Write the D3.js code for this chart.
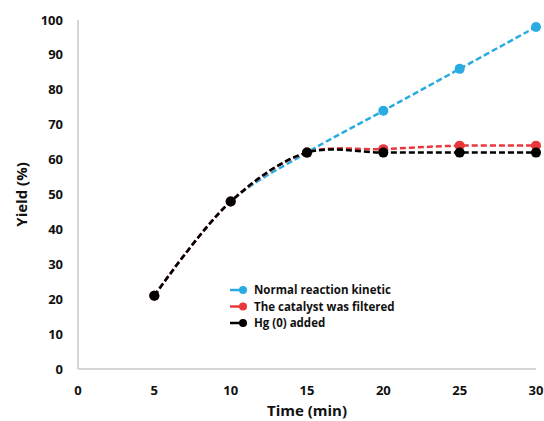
<!DOCTYPE html>
<html lang="en">
<head>
  <meta charset="UTF-8">
  <title>Yield vs Time</title>
  <script src="https://d3js.org/d3.v7.min.js"></script>
  <style>
    body { margin: 0; background: #fff; }
    text { font-family: "Open Sans", "Liberation Sans", sans-serif; font-weight: bold; fill: #111; }
    .tick-label { font-size: 13px; }
    .axis-title { font-size: 15px; }
    .legend-label { font-size: 11.5px; }
  </style>
</head>
<body>
  <div id="chart"></div>
  <script>
    // Data
    const times = [5, 10, 15, 20, 25, 30];
    const normalKinetic = [21, 48, 62, 74, 86, 98];
    const catalystFiltered = [21, 48, 62, 63, 64, 64];
    const hgAdded = [21, 48, 62, 62, 62, 62];
    const xTicks = [0, 5, 10, 15, 20, 25, 30];
    const yTicks = [0, 10, 20, 30, 40, 50, 60, 70, 80, 90, 100];

    const series = [
      { name: "Normal  reaction kinetic", values: normalKinetic, color: "#29abe2" },
      { name: "The catalyst was filtered", values: catalystFiltered, color: "#e8383d" },
      { name: "Hg (0) added", values: hgAdded, color: "#000000" }
    ];

    const width = 544, height = 421;
    const svg = d3.select("#chart").append("svg")
      .attr("width", width)
      .attr("height", height);

    const x = d3.scaleLinear().domain([0, 30]).range([78, 536]);
    const y = d3.scaleLinear().domain([0, 100]).range([369, 20]);

    // Axis lines
    svg.append("line")
      .attr("x1", x(0)).attr("x2", x(0))
      .attr("y1", y(0)).attr("y2", y(100))
      .attr("stroke", "#c8c8c8").attr("stroke-width", 1.5);
    svg.append("line")
      .attr("x1", x(0)).attr("x2", x(30))
      .attr("y1", y(0)).attr("y2", y(0))
      .attr("stroke", "#c8c8c8").attr("stroke-width", 1.5);

    // Tick labels
    svg.selectAll(".ytick")
      .data(yTicks)
      .enter().append("text")
      .attr("class", "tick-label")
      .attr("x", 63)
      .attr("y", d => y(d))
      .attr("dy", "0.35em")
      .attr("text-anchor", "end")
      .text(d => d);

    svg.selectAll(".xtick")
      .data(xTicks)
      .enter().append("text")
      .attr("class", "tick-label")
      .attr("x", d => x(d))
      .attr("y", 390)
      .attr("dy", "0.35em")
      .attr("text-anchor", "middle")
      .text(d => d);

    // Axis titles
    svg.append("text")
      .attr("class", "axis-title")
      .attr("x", x(15))
      .attr("y", 416)
      .attr("text-anchor", "middle")
      .text("Time (min)");

    svg.append("text")
      .attr("class", "axis-title")
      .attr("transform", `translate(27,${y(50)}) rotate(-90)`)
      .attr("text-anchor", "middle")
      .text("Yield (%)");

    // Lines
    const line = d3.line()
      .x((d, i) => x(times[i]))
      .y(d => y(d))
      .curve(d3.curveCatmullRom.alpha(0.5));

    series.forEach(s => {
      svg.append("path")
        .datum(s.values)
        .attr("fill", "none")
        .attr("stroke", s.color)
        .attr("stroke-width", 2.5)
        .attr("stroke-dasharray", "6,3")
        .attr("d", line);

      svg.selectAll(null)
        .data(s.values)
        .enter().append("circle")
        .attr("cx", (d, i) => x(times[i]))
        .attr("cy", d => y(d))
        .attr("r", 5)
        .attr("fill", s.color);
    });

    // Legend
    const legend = svg.append("g").attr("transform", "translate(230,290)");
    series.forEach((s, i) => {
      const g = legend.append("g").attr("transform", `translate(0,${i * 16.5})`);
      g.append("line")
        .attr("x1", 0).attr("x2", 14)
        .attr("y1", 0).attr("y2", 0)
        .attr("stroke", s.color).attr("stroke-width", 2.5);
      g.append("circle")
        .attr("cx", 13).attr("cy", 0).attr("r", 4)
        .attr("fill", s.color);
      g.append("text")
        .attr("class", "legend-label")
        .attr("x", 24)
        .attr("y", 0)
        .attr("dy", "0.35em")
        .text(s.name);
    });
  </script>
</body>
</html>
